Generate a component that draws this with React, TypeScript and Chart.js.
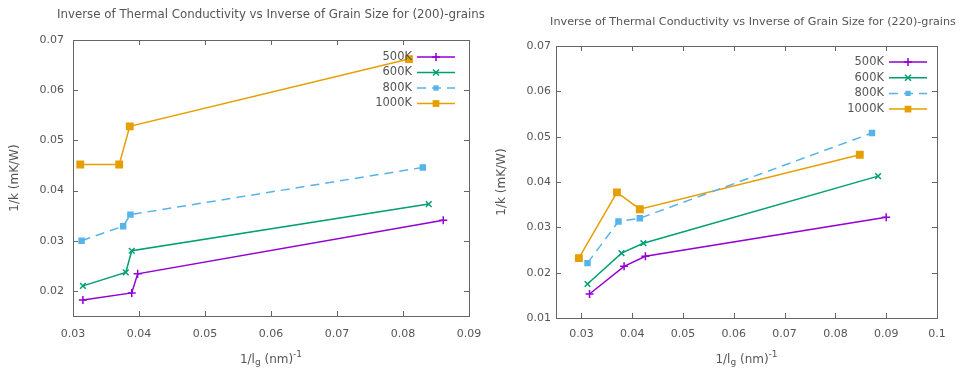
import React, { useEffect, useRef } from 'react';
import { Chart, registerables } from 'chart.js';

Chart.register(...registerables);

// ---------- data ----------
const SERIES_NAMES = ['500K', '600K', '800K', '1000K'];

// (200)-grains
const X200_500K = [0.0315, 0.0389, 0.0398, 0.0861];
const Y200_500K = [0.0182, 0.0196, 0.0234, 0.0341];
const X200_600K = [0.0315, 0.038, 0.0389, 0.0839];
const Y200_600K = [0.021, 0.0237, 0.028, 0.0373];
const X200_800K = [0.0313, 0.0376, 0.0387, 0.083];
const Y200_800K = [0.03, 0.0329, 0.0352, 0.0446];
const X200_1000K = [0.0311, 0.037, 0.0386, 0.0809];
const Y200_1000K = [0.0452, 0.0452, 0.0528, 0.0662];

// (220)-grains
const X220_500K = [0.0316, 0.0384, 0.0426, 0.09];
const Y220_500K = [0.0153, 0.0214, 0.0236, 0.0322];
const X220_600K = [0.0312, 0.0379, 0.0422, 0.0884];
const Y220_600K = [0.0175, 0.0243, 0.0265, 0.0413];
const X220_800K = [0.0312, 0.0373, 0.0415, 0.0872];
const Y220_800K = [0.0221, 0.0313, 0.032, 0.0508];
const X220_1000K = [0.0295, 0.037, 0.0415, 0.0848];
const Y220_1000K = [0.0232, 0.0377, 0.034, 0.046];

const X_TICKS_200 = [0.03, 0.04, 0.05, 0.06, 0.07, 0.08, 0.09];
const Y_TICKS_200 = [0.02, 0.03, 0.04, 0.05, 0.06, 0.07];
const X_TICKS_220 = [0.03, 0.04, 0.05, 0.06, 0.07, 0.08, 0.09, 0.1];
const Y_TICKS_220 = [0.01, 0.02, 0.03, 0.04, 0.05, 0.06, 0.07];

const X_RANGE_200 = [0.03, 0.09];
const Y_RANGE_200 = [0.015, 0.07];
const X_RANGE_220 = [0.025, 0.1];
const Y_RANGE_220 = [0.01, 0.07];

const TITLE_200 = 'Inverse of Thermal Conductivity vs Inverse of Grain Size for (200)-grains';
const TITLE_220 = 'Inverse of Thermal Conductivity vs Inverse of Grain Size for (220)-grains';
const Y_TITLE = '1/k (mK/W)';

// ---------- styles ----------
const COLORS = ['#9400d3', '#009e73', '#56b4e9', '#e69f00'];
const POINT_STYLES = ['cross', 'crossRot', 'rect', 'rect'];
const POINT_RADII = [4, 4, 3.5, 4.5];
const DASHES: number[][] = [[], [], [9, 6], []];
const FONT = "'DejaVu Sans', sans-serif";
const TEXT_COLOR = '#555';
const FRAME_COLOR = '#666';

type Layout = {
  w: number; h: number; top: number; right: number; yw: number; xh: number;
  xPad: number; yPad: number;
  titleX: number; titleY: number; titleSize: number;
  yTitleX: number; xTitleY: number;
  legRight: number; legX1: number; legX2: number; legY0: number; legDy: number;
};

const L200: Layout = {
  w: 500, h: 369, top: 40, right: 31, yw: 73, xh: 53, xPad: 12, yPad: 9,
  titleX: 271, titleY: 15, titleSize: 11.8,
  yTitleX: 15, xTitleY: 360,
  legRight: 412, legX1: 417, legX2: 455, legY0: 57, legDy: 15.5,
};
const L220: Layout = {
  w: 481, h: 369, top: 46, right: 24, yw: 76, xh: 51, xPad: 10, yPad: 5,
  titleX: 273, titleY: 22, titleSize: 11.2,
  yTitleX: 22, xTitleY: 360,
  legRight: 404, legX1: 409, legX2: 447, legY0: 62, legDy: 15.7,
};

function fmt(v: number) {
  return String(Number(v.toFixed(4)));
}

function drawMarker(ctx: CanvasRenderingContext2D, style: string, x: number, y: number, r: number, color: string) {
  ctx.save();
  ctx.strokeStyle = color;
  ctx.fillStyle = color;
  ctx.lineWidth = 1.5;
  ctx.setLineDash([]);
  ctx.beginPath();
  if (style === 'cross') {
    ctx.moveTo(x - r, y); ctx.lineTo(x + r, y);
    ctx.moveTo(x, y - r); ctx.lineTo(x, y + r);
    ctx.stroke();
  } else if (style === 'crossRot') {
    const d = r * 0.75;
    ctx.moveTo(x - d, y - d); ctx.lineTo(x + d, y + d);
    ctx.moveTo(x - d, y + d); ctx.lineTo(x + d, y - d);
    ctx.stroke();
  } else {
    const s = r * 0.75;
    ctx.fillRect(x - s, y - s, 2 * s, 2 * s);
  }
  ctx.restore();
}

const decorPlugin = {
  id: 'decor',
  beforeDatasetsDraw(chart: any) {
    const { ctx, chartArea: a, scales } = chart;
    const x = scales.x, y = scales.y;
    ctx.save();
    ctx.strokeStyle = FRAME_COLOR;
    ctx.lineWidth = 1;
    ctx.strokeRect(Math.round(a.left) + 0.5, Math.round(a.top) + 0.5, Math.round(a.right - a.left), Math.round(a.bottom - a.top));
    const tl = 5;
    ctx.beginPath();
    x.ticks.forEach((t: any) => {
      const px = Math.round(x.getPixelForValue(t.value)) + 0.5;
      if (px <= a.left + 1 || px >= a.right - 1) return;
      ctx.moveTo(px, a.bottom); ctx.lineTo(px, a.bottom - tl);
      ctx.moveTo(px, a.top); ctx.lineTo(px, a.top + tl);
    });
    y.ticks.forEach((t: any) => {
      const py = Math.round(y.getPixelForValue(t.value)) + 0.5;
      if (py <= a.top + 1 || py >= a.bottom - 1) return;
      ctx.moveTo(a.left, py); ctx.lineTo(a.left + tl, py);
      ctx.moveTo(a.right, py); ctx.lineTo(a.right - tl, py);
    });
    ctx.stroke();
    ctx.restore();
  },
  afterDatasetsDraw(chart: any, _args: any, opts: any) {
    const { ctx, chartArea: a } = chart;
    const lay: Layout = opts.layout;
    ctx.save();
    ctx.fillStyle = TEXT_COLOR;
    // title
    ctx.font = `${lay.titleSize}px ${FONT}`;
    ctx.textAlign = 'center';
    ctx.textBaseline = 'middle';
    ctx.fillText(opts.title, lay.titleX, lay.titleY);
    // y title
    ctx.font = `12px ${FONT}`;
    ctx.save();
    ctx.translate(lay.yTitleX, (a.top + a.bottom) / 2);
    ctx.rotate(-Math.PI / 2);
    ctx.fillText(Y_TITLE, 0, 0);
    ctx.restore();
    // x title: 1/l_g (nm)^-1
    const parts = [
      { t: '1/l', size: 12, dy: 0 },
      { t: 'g', size: 9, dy: 3 },
      { t: ' (nm)', size: 12, dy: 0 },
      { t: '-1', size: 9, dy: -5 },
    ];
    let total = 0;
    parts.forEach(p => { ctx.font = `${p.size}px ${FONT}`; total += ctx.measureText(p.t).width; });
    let cx = (a.left + a.right) / 2 - total / 2;
    ctx.textAlign = 'left';
    parts.forEach(p => {
      ctx.font = `${p.size}px ${FONT}`;
      ctx.fillText(p.t, cx, lay.xTitleY + p.dy);
      cx += ctx.measureText(p.t).width;
    });
    // legend
    chart.data.datasets.forEach((ds: any, i: number) => {
      const yy = lay.legY0 + i * lay.legDy;
      ctx.font = `11.5px ${FONT}`;
      ctx.textAlign = 'right';
      ctx.fillStyle = TEXT_COLOR;
      ctx.fillText(ds.label, lay.legRight, yy);
      ctx.save();
      ctx.strokeStyle = ds.borderColor;
      ctx.lineWidth = 1.5;
      ctx.setLineDash(ds.borderDash || []);
      ctx.beginPath();
      ctx.moveTo(lay.legX1, yy); ctx.lineTo(lay.legX2, yy);
      ctx.stroke();
      ctx.restore();
      drawMarker(ctx, ds.pointStyle, (lay.legX1 + lay.legX2) / 2, yy, ds.pointRadius, ds.borderColor);
    });
    ctx.restore();
  },
};

function buildConfig(
  xs: number[][], ys: number[][], xr: number[], yr: number[], xt: number[], yt: number[],
  title: string, lay: Layout,
): any {
  const datasets = SERIES_NAMES.map((name, i) => ({
    label: name,
    data: xs[i].map((xv, j) => ({ x: xv, y: ys[i][j] })),
    showLine: true,
    borderColor: COLORS[i],
    backgroundColor: COLORS[i],
    borderWidth: 1.5,
    borderDash: DASHES[i],
    pointStyle: POINT_STYLES[i],
    pointRadius: POINT_RADII[i],
    pointBorderWidth: 1.5,
    pointHoverRadius: POINT_RADII[i],
    tension: 0,
  }));
  return {
    type: 'scatter',
    data: { datasets },
    plugins: [decorPlugin],
    options: {
      animation: false,
      responsive: false,
      devicePixelRatio: 1,
      layout: { padding: { left: 0, top: lay.top, right: lay.right, bottom: 0 } },
      plugins: {
        legend: { display: false },
        tooltip: { enabled: false },
        title: { display: false },
        decor: { title, layout: lay },
      },
      scales: {
        x: {
          type: 'linear', min: xr[0], max: xr[1],
          afterBuildTicks: (s: any) => { s.ticks = xt.map(v => ({ value: v })); },
          afterFit: (s: any) => { s.height = lay.xh; s.paddingLeft = 0; s.paddingRight = 0; },
          grid: { display: false, drawTicks: false },
          border: { display: false },
          ticks: {
            padding: lay.xPad, color: TEXT_COLOR, font: { family: FONT, size: 11 },
            maxRotation: 0, autoSkip: false, callback: (v: number) => fmt(v),
          },
        },
        y: {
          type: 'linear', min: yr[0], max: yr[1],
          afterBuildTicks: (s: any) => { s.ticks = yt.map(v => ({ value: v })); },
          afterFit: (s: any) => { s.width = lay.yw; s.paddingTop = 0; s.paddingBottom = 0; },
          grid: { display: false, drawTicks: false },
          border: { display: false },
          ticks: {
            padding: lay.yPad, color: TEXT_COLOR, font: { family: FONT, size: 11 },
            autoSkip: false, callback: (v: number) => fmt(v),
          },
        },
      },
    },
  };
}

function PlotCanvas({ config, w, h }: { config: any; w: number; h: number }) {
  const ref = useRef<HTMLCanvasElement | null>(null);
  useEffect(() => {
    if (!ref.current) return;
    const chart = new Chart(ref.current, config);
    return () => chart.destroy();
  }, [config]);
  return <canvas ref={ref} width={w} height={h} style={{ width: w, height: h, display: 'block' }} />;
}

const CONFIG_200 = buildConfig(
  [X200_500K, X200_600K, X200_800K, X200_1000K],
  [Y200_500K, Y200_600K, Y200_800K, Y200_1000K],
  X_RANGE_200, Y_RANGE_200, X_TICKS_200, Y_TICKS_200, TITLE_200, L200,
);
const CONFIG_220 = buildConfig(
  [X220_500K, X220_600K, X220_800K, X220_1000K],
  [Y220_500K, Y220_600K, Y220_800K, Y220_1000K],
  X_RANGE_220, Y_RANGE_220, X_TICKS_220, Y_TICKS_220, TITLE_220, L220,
);

export default function App() {
  return (
    <div style={{ position: 'fixed', left: 0, top: 0, width: 961, height: 369, background: '#fff', overflow: 'hidden' }}>
      <div style={{ position: 'absolute', left: 0, top: 0 }}>
        <PlotCanvas config={CONFIG_200} w={L200.w} h={L200.h} />
      </div>
      <div style={{ position: 'absolute', left: 480, top: 0 }}>
        <PlotCanvas config={CONFIG_220} w={L220.w} h={L220.h} />
      </div>
    </div>
  );
}
